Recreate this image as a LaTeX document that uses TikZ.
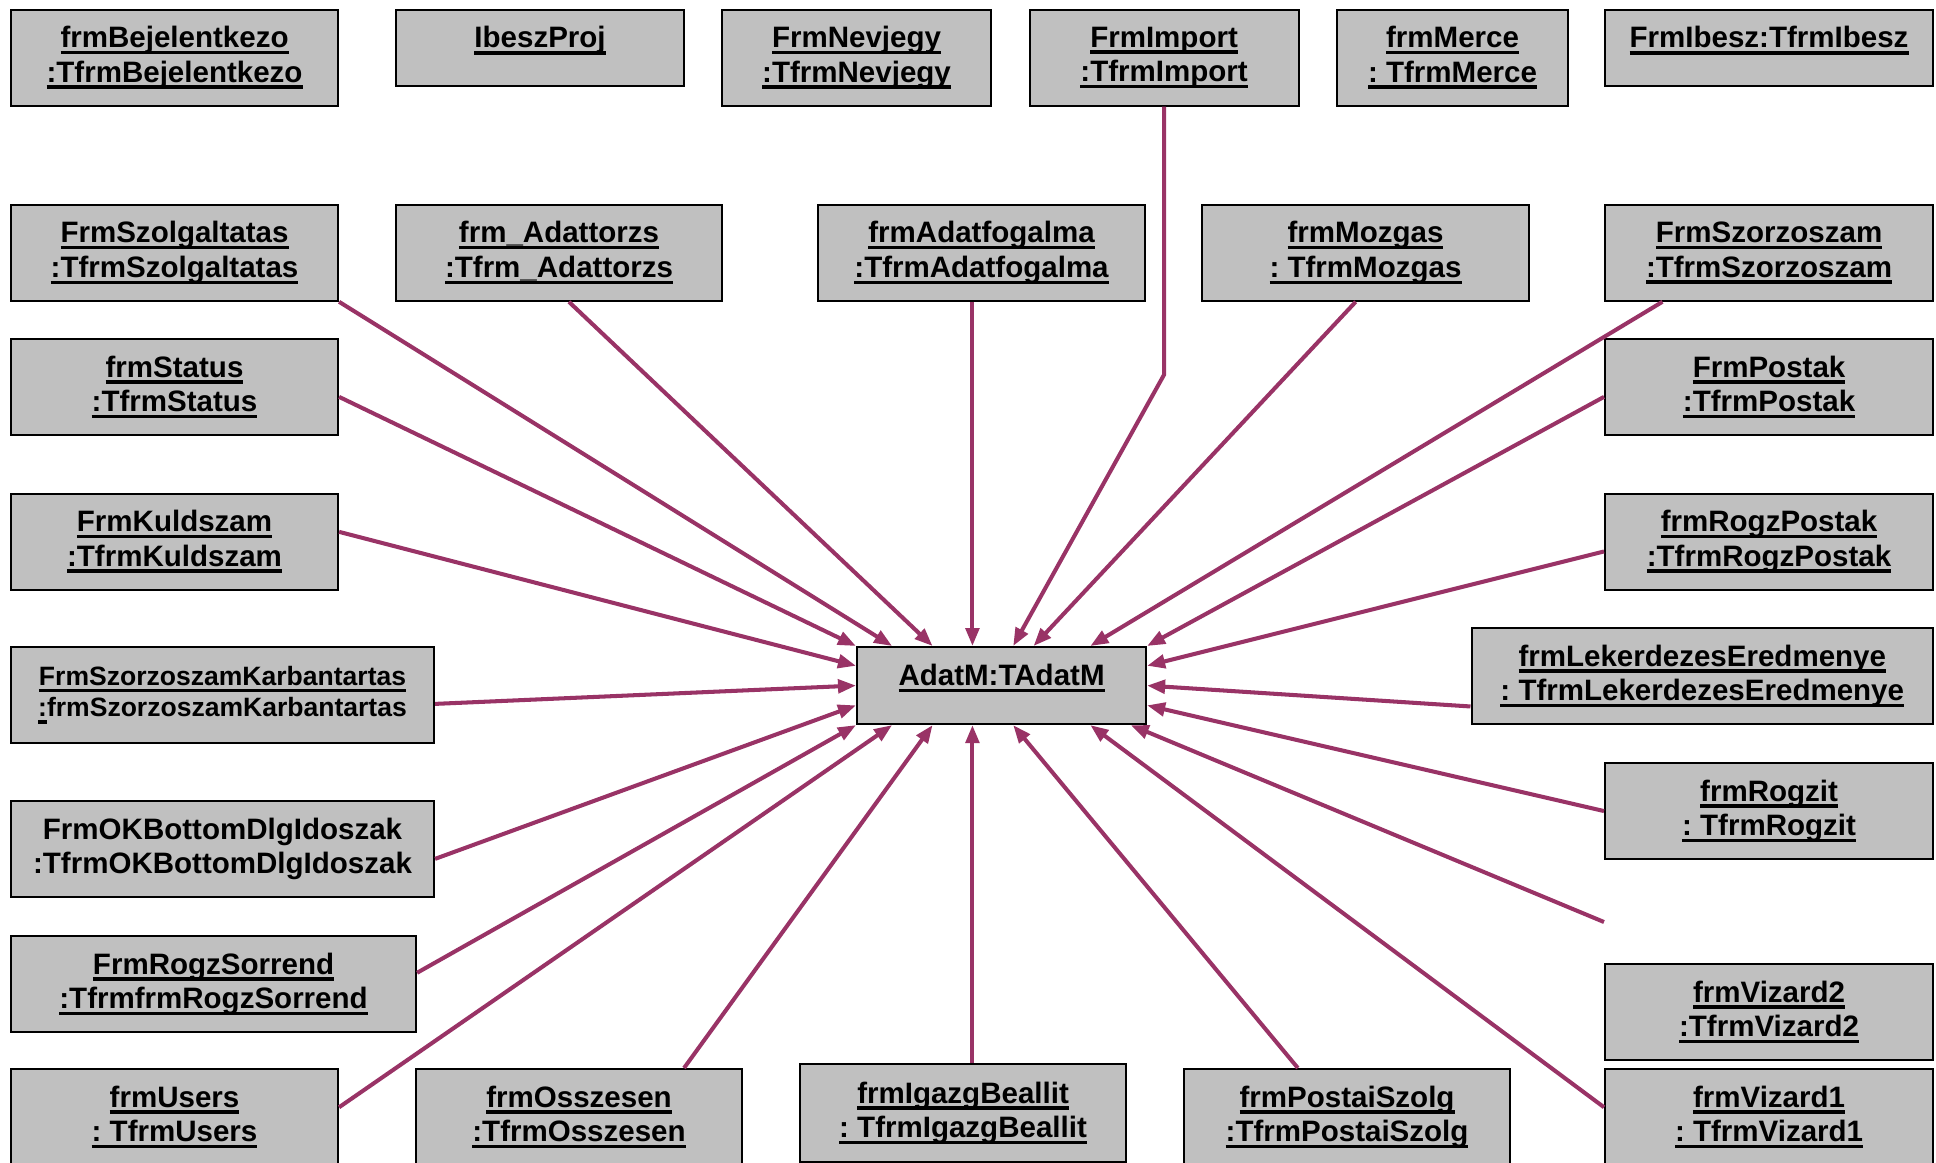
\documentclass[tikz,border=0pt]{standalone}
\usepackage{fontspec}
\setmainfont{Liberation Sans}
\usepackage{xcolor}
\usetikzlibrary{arrows.meta, calc}
\definecolor{boxgray}{HTML}{C0C0C0}
\definecolor{linkplum}{HTML}{993366}
\frenchspacing
\newcommand{\uln}[1]{\setbox0\hbox{#1}\rlap{\rule[-1.9pt]{\wd0}{1pt}}\box0}
\newcommand{\objfont}{\fontsize{8.4}{9.85}\selectfont\bfseries}
\newcommand{\smallobjfont}{\fontsize{7.55}{8.85}\selectfont\bfseries}
\tikzset{
  objbox/.style = {rectangle, draw, line width=0.6pt, fill=boxgray, inner sep=0pt,
    align=center, anchor=north west, minimum width=#1, minimum height=0.96cm, font=\objfont},
  objbox/.default = 3.27cm,
  onebox/.style = {objbox=#1, minimum height=0.766cm, text height=0.2cm, text depth=0.2cm},
  onebox/.default = 3.27cm,
  arrow/.style = {draw=linkplum, line width=1.15pt, -{Triangle[length=1.8mm, width=1.35mm]}},
}

\begin{document}
\begin{tikzpicture}

  \useasboundingbox (0,0) rectangle (19.36,-11.63);

  % Top row
  \node[objbox] (bejel) at (0.10,-0.086) {\uln{frmBejelentkezo}\\\uln{:TfrmBejelentkezo}};
  \node[onebox=2.88cm] (ibproj) at (3.95,-0.086) {\uln{IbeszProj}};
  \node[objbox=2.69cm] (nevjegy) at (7.21,-0.086) {\uln{FrmNevjegy}\\\uln{:TfrmNevjegy}};
  \node[objbox=2.69cm] (import) at (10.285,-0.086) {\uln{FrmImport}\\\uln{:TfrmImport}};
  \node[objbox=2.31cm] (merce) at (13.36,-0.086) {\uln{frmMerce}\\\uln{: TfrmMerce}};
  \node[onebox=3.28cm] (ibesz) at (16.04,-0.086) {\uln{FrmIbesz:TfrmIbesz}};

  % Second row
  \node[objbox] (szolg) at (0.10,-2.037) {\uln{FrmSzolgaltatas}\\\uln{:TfrmSzolgaltatas}};
  \node[objbox=3.26cm] (adattorzs) at (3.95,-2.037) {\uln{frm\_Adattorzs}\\\uln{:Tfrm\_Adattorzs}};
  \node[objbox] (adatfog) at (8.17,-2.037) {\uln{frmAdatfogalma}\\\uln{:TfrmAdatfogalma}};
  \node[objbox] (mozgas) at (12.01,-2.037) {\uln{frmMozgas}\\\uln{: TfrmMozgas}};
  \node[objbox=3.28cm] (szorzo) at (16.04,-2.037) {\uln{FrmSzorzoszam}\\\uln{:TfrmSzorzoszam}};

  % Left column
  \node[objbox] (status) at (0.10,-3.38) {\uln{frmStatus}\\\uln{:TfrmStatus}};
  \node[objbox] (kuld) at (0.10,-4.926) {\uln{FrmKuldszam}\\\uln{:TfrmKuldszam}};
  \node[objbox=4.23cm, font=\smallobjfont] (karb) at (0.10,-6.46) {\uln{FrmSzorzoszamKarbantartas}\\\uln{:}frmSzorzoszamKarbantartas};
  \node[objbox=4.23cm] (okbottom) at (0.10,-8.00) {FrmOKBottomDlgIdoszak\\:TfrmOKBottomDlgIdoszak};
  \node[objbox=4.05cm] (sorrend) at (0.10,-9.35) {\uln{FrmRogzSorrend}\\\uln{:TfrmfrmRogzSorrend}};
  \node[objbox] (users) at (0.10,-10.68) {\uln{frmUsers}\\\uln{: TfrmUsers}};

  % Right column
  \node[objbox=3.28cm] (postak) at (16.04,-3.38) {\uln{FrmPostak}\\\uln{:TfrmPostak}};
  \node[objbox=3.28cm] (rogzpostak) at (16.04,-4.926) {\uln{frmRogzPostak}\\\uln{:TfrmRogzPostak}};
  \node[objbox=4.615cm] (lekerd) at (14.705,-6.27) {\uln{frmLekerdezesEredmenye}\\\uln{: TfrmLekerdezesEredmenye}};
  \node[objbox=3.28cm] (rogzit) at (16.04,-7.62) {\uln{frmRogzit}\\\uln{: TfrmRogzit}};
  \node[objbox=3.28cm] (vizard2) at (16.04,-9.63) {\uln{frmVizard2}\\\uln{:TfrmVizard2}};
  \node[objbox=3.28cm] (vizard1) at (16.04,-10.68) {\uln{frmVizard1}\\\uln{: TfrmVizard1}};

  % Bottom row
  \node[objbox=3.26cm] (osszesen) at (4.15,-10.68) {\uln{frmOsszesen}\\\uln{:TfrmOsszesen}};
  \node[objbox=3.26cm, minimum height=0.98cm] (igazg) at (7.99,-10.63) {\uln{frmIgazgBeallit}\\\uln{: TfrmIgazgBeallit}};
  \node[objbox=3.26cm] (postai) at (11.83,-10.68) {\uln{frmPostaiSzolg}\\\uln{:TfrmPostaiSzolg}};

  % Centre
  \node[onebox=2.89cm, minimum height=0.77cm] (adatm) at (8.56,-6.46) {\uln{AdatM:TAdatM}};

  % Attachment points on AdatM
  \foreach \n/\f in {1/0.124, 2/0.263, 3/0.4, 4/0.54, 5/0.61, 6/0.805}
    \coordinate (t\n) at ($(adatm.north west)!\f!(adatm.north east)$);
  \foreach \n/\f in {1/0.124, 2/0.263, 3/0.4, 4/0.54, 5/0.805, 6/0.944}
    \coordinate (b\n) at ($(adatm.south west)!\f!(adatm.south east)$);
  \foreach \n/\f in {1/0.25, 2/0.5, 3/0.75} {
    \coordinate (l\n) at ($(adatm.north west)!\f!(adatm.south west)$);
    \coordinate (r\n) at ($(adatm.north east)!\f!(adatm.south east)$);
  }
  \coordinate (v2end) at ($(vizard2.north west)+(0,0.41)$);

  % Links from above
  \draw[arrow] ($(status.north east)!0.6!(status.south east)$) -- (adatm.north west);
  \draw[arrow] (szolg.south east) -- (t1);
  \draw[arrow] ($(adattorzs.south west)!0.53!(adattorzs.south east)$) -- (t2);
  \draw[arrow] (adatfog.south -| t3) -- (t3);
  \draw[arrow] (import.south) -- ++(0,-2.68) -- (t4);
  \draw[arrow] ($(mozgas.south west)!0.47!(mozgas.south east)$) -- (t5);
  \draw[arrow] ($(szorzo.south west)!0.177!(szorzo.south east)$) -- (t6);
  \draw[arrow] ($(postak.north west)!0.6!(postak.south west)$) -- (adatm.north east);

  % Links from the left
  \draw[arrow] ($(kuld.north east)!0.4!(kuld.south east)$) -- (l1);
  \draw[arrow] ($(karb.north east)!0.59!(karb.south east)$) -- (l2);
  \draw[arrow] ($(okbottom.north east)!0.6!(okbottom.south east)$) -- (l3);
  \draw[arrow] ($(sorrend.north east)!0.385!(sorrend.south east)$) -- (adatm.south west);

  % Links from below
  \draw[arrow] ($(users.north east)!0.4!(users.south east)$) -- (b1);
  \draw[arrow] ($(osszesen.north west)!0.82!(osszesen.north east)$) -- (b2);
  \draw[arrow] (igazg.north -| b3) -- (b3);
  \draw[arrow] ($(postai.north west)!0.35!(postai.north east)$) -- (b4);
  \draw[arrow] ($(vizard1.north west)!0.4!(vizard1.south west)$) -- (b5);
  \draw[arrow] (v2end) -- (b6);

  % Links from the right
  \draw[arrow] ($(rogzpostak.north west)!0.6!(rogzpostak.south west)$) -- (r1);
  \draw[arrow] ($(lekerd.north west)!0.81!(lekerd.south west)$) -- (r2);
  \draw[arrow] (rogzit.west) -- (r3);

\end{tikzpicture}
\end{document}
